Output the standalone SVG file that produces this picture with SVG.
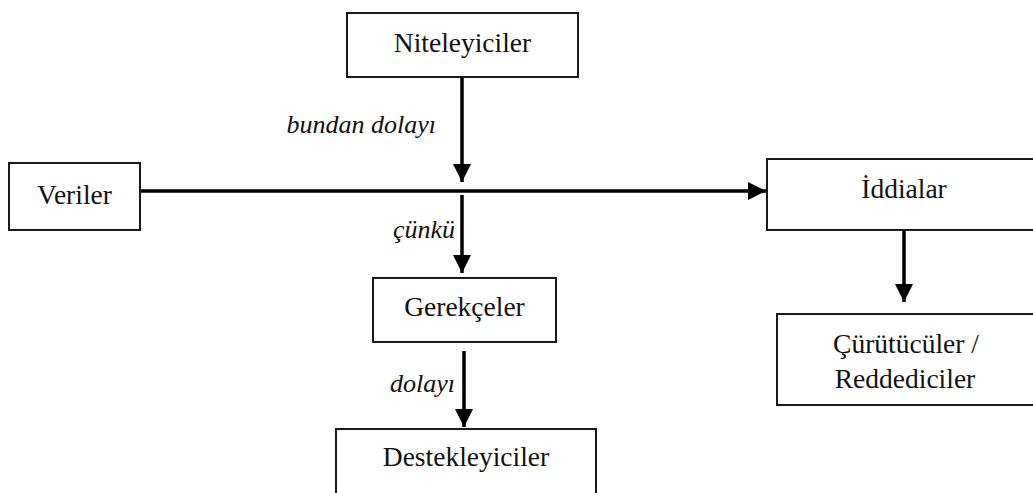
<svg xmlns="http://www.w3.org/2000/svg" width="1033" height="493" viewBox="0 0 1033 493">
<style>
.box{fill:#fff;stroke:#1a1a1a;stroke-width:2}
.t{font-family:"Liberation Serif","Times New Roman",serif;font-size:27.5px;fill:#111;text-anchor:middle}
.l{font-family:"Liberation Serif","Times New Roman",serif;font-size:26px;font-style:italic;fill:#111;text-anchor:end}
.c{stroke:#000;stroke-width:3.5;fill:none}
</style>
<defs>
<marker id="ah" markerUnits="userSpaceOnUse" markerWidth="18" markerHeight="18" viewBox="0 0 18 18" refX="18" refY="9" orient="auto">
<path d="M0,0 L18,9 L0,18 Z" fill="#000"/>
</marker>
</defs>
<rect width="1033" height="493" fill="#fff"/>
<g id="connectors">
<line class="c" x1="462" y1="77" x2="462" y2="182" marker-end="url(#ah)"/>
<line class="c" x1="140" y1="191" x2="766" y2="191" marker-end="url(#ah)"/>
<line class="c" x1="462" y1="195" x2="462" y2="273" marker-end="url(#ah)"/>
<line class="c" x1="464" y1="351" x2="464" y2="427" marker-end="url(#ah)"/>
<line class="c" x1="904" y1="225" x2="904" y2="302" marker-end="url(#ah)"/>
<text class="l" x="436" y="133">bundan dolayı</text>
<text class="l" x="455" y="238">çünkü</text>
<text class="l" x="455" y="392">dolayı</text>
</g>
<g id="niteleyiciler">
<rect class="box" x="347" y="13" width="231" height="64"/>
<text class="t" x="462.5" y="52">Niteleyiciler</text>
</g>
<g id="veriler">
<rect class="box" x="9" y="163" width="131" height="67"/>
<text class="t" x="74.5" y="204">Veriler</text>
</g>
<g id="iddialar">
<rect class="box" x="767" y="159" width="275" height="71"/>
<text class="t" x="904" y="198">İddialar</text>
</g>
<g id="gerekceler">
<rect class="box" x="373" y="278" width="183" height="64"/>
<text class="t" x="464.5" y="316">Gerekçeler</text>
</g>
<g id="destekleyiciler">
<rect class="box" x="336" y="429" width="260" height="70"/>
<text class="t" x="466" y="466">Destekleyiciler</text>
</g>
<g id="curutuculer">
<rect class="box" x="777" y="314" width="265" height="91"/>
<text class="t" x="906" y="353">Çürütücüler /</text>
<text class="t" x="905" y="388">Reddediciler</text>
</g>
</svg>
